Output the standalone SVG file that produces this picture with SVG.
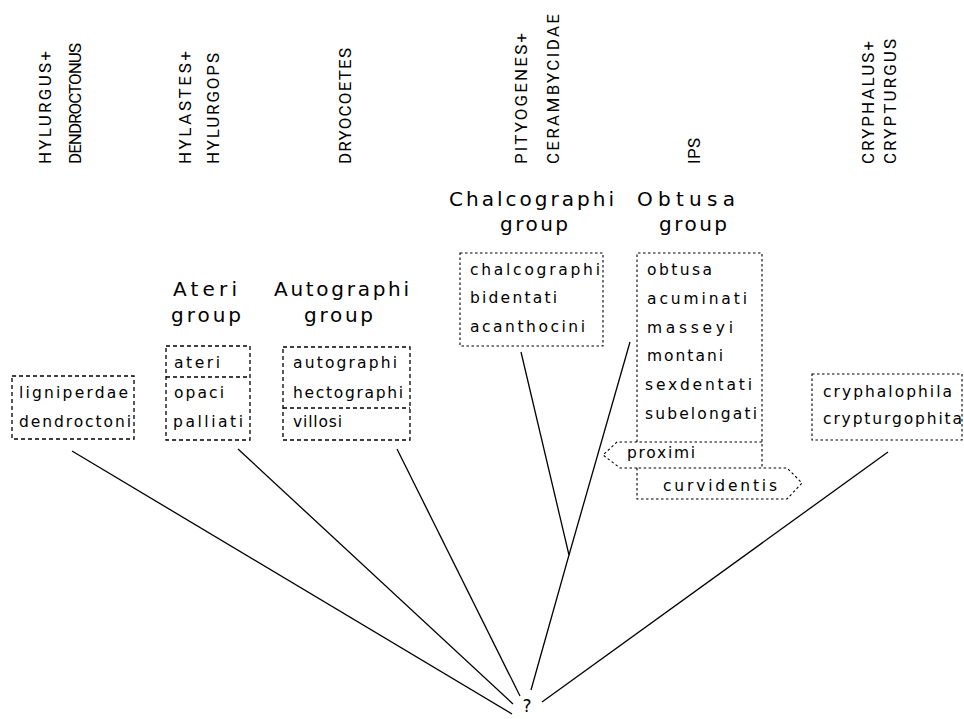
<svg xmlns="http://www.w3.org/2000/svg" width="964" height="719" viewBox="0 0 964 719">
<style>
.bg{fill:#fff}
.box{fill:none;stroke:#000;stroke-width:1.3;stroke-dasharray:4 3}
.dot{fill:none;stroke:#000;stroke-width:1.1;stroke-dasharray:2.5 2.5}
.ln{fill:none;stroke:#000;stroke-width:1.3}
.t{font-family:"DejaVu Sans","Liberation Sans",sans-serif;font-size:15.5px;fill:#000}
.h{font-family:"DejaVu Sans","Liberation Sans",sans-serif;font-size:20px;fill:#000}
.q{font-family:"DejaVu Sans","Liberation Sans",sans-serif;font-size:17px;fill:#000}
.v{font-family:Roboto,"Liberation Sans",sans-serif;font-size:17px;fill:#000}
</style>
<rect class="bg" x="0" y="0" width="964" height="719"/>

<g id="genus-labels">
<text class="v" transform="translate(51,164) rotate(-90)" textLength="113" lengthAdjust="spacing">HYLURGUS+</text>
<text class="v" transform="translate(81,164) rotate(-90)" textLength="121" lengthAdjust="spacing">DENDROCTONUS</text>
<text class="v" transform="translate(191,164) rotate(-90)" textLength="113" lengthAdjust="spacing">HYLASTES+</text>
<text class="v" transform="translate(219,164) rotate(-90)" textLength="111" lengthAdjust="spacing">HYLURGOPS</text>
<text class="v" transform="translate(351,164) rotate(-90)" textLength="116" lengthAdjust="spacing">DRYOCOETES</text>
<text class="v" transform="translate(527,164) rotate(-90)" textLength="131" lengthAdjust="spacing">PITYOGENES+</text>
<text class="v" transform="translate(559,164) rotate(-90)" textLength="150" lengthAdjust="spacing">CERAMBYCIDAE</text>
<text class="v" transform="translate(700,164) rotate(-90)" textLength="26" lengthAdjust="spacing">IPS</text>
<text class="v" transform="translate(874,164) rotate(-90)" textLength="123" lengthAdjust="spacing">CRYPHALUS+</text>
<text class="v" transform="translate(896,164) rotate(-90)" textLength="125" lengthAdjust="spacing">CRYPTURGUS</text>
</g>

<g id="connectors">
<line class="ln" x1="72" y1="451" x2="512" y2="714"/>
<line class="ln" x1="238" y1="449" x2="513" y2="704"/>
<line class="ln" x1="397" y1="449" x2="520" y2="696"/>
<polyline class="ln" points="521,352 569,555 531,690"/>
<line class="ln" x1="630" y1="342" x2="569" y2="555"/>
<line class="ln" x1="888" y1="452" x2="542" y2="702"/>
</g>

<g id="hylurgus-dendroctonus">
<rect class="box" x="12" y="376" width="122" height="63"/>
<text class="t" x="19" y="398" textLength="109" lengthAdjust="spacing">ligniperdae</text>
<text class="t" x="19" y="427" textLength="112" lengthAdjust="spacing">dendroctoni</text>
</g>

<g id="ateri-group">
<text class="h" x="173" y="296" textLength="64" lengthAdjust="spacing">Ateri</text>
<text class="h" x="171" y="322" textLength="70" lengthAdjust="spacing">group</text>
<rect class="box" x="166" y="346" width="84" height="94"/>
<line class="box" x1="166" y1="377" x2="250" y2="377"/>
<text class="t" x="174" y="368" textLength="46" lengthAdjust="spacing">ateri</text>
<text class="t" x="174" y="398" textLength="50" lengthAdjust="spacing">opaci</text>
<text class="t" x="173" y="427" textLength="70" lengthAdjust="spacing">palliati</text>
</g>

<g id="autographi-group">
<text class="h" x="274" y="296" textLength="135" lengthAdjust="spacing">Autographi</text>
<text class="h" x="304" y="322" textLength="69" lengthAdjust="spacing">group</text>
<rect class="box" x="283" y="347" width="127" height="93"/>
<line class="box" x1="283" y1="408" x2="410" y2="408"/>
<text class="t" x="293" y="368" textLength="104" lengthAdjust="spacing">autographi</text>
<text class="t" x="293" y="398" textLength="110" lengthAdjust="spacing">hectographi</text>
<text class="t" x="293" y="427" textLength="49" lengthAdjust="spacing">villosi</text>
</g>

<g id="chalcographi-group">
<text class="h" x="449" y="206" textLength="165" lengthAdjust="spacing">Chalcographi</text>
<text class="h" x="500" y="231" textLength="68" lengthAdjust="spacing">group</text>
<rect class="dot" x="460" y="253" width="143" height="93"/>
<text class="t" x="470" y="275" textLength="130" lengthAdjust="spacing">chalcographi</text>
<text class="t" x="470" y="303" textLength="87" lengthAdjust="spacing">bidentati</text>
<text class="t" x="470" y="332" textLength="115" lengthAdjust="spacing">acanthocini</text>
</g>

<g id="obtusa-group">
<text class="h" x="637" y="206" textLength="98" lengthAdjust="spacing">Obtusa</text>
<text class="h" x="659" y="231" textLength="68" lengthAdjust="spacing">group</text>
<path class="dot" d="M637,442 V253 H762 V468"/>
<text class="t" x="647" y="275" textLength="65" lengthAdjust="spacing">obtusa</text>
<text class="t" x="647" y="304" textLength="100" lengthAdjust="spacing">acuminati</text>
<text class="t" x="647" y="333" textLength="86" lengthAdjust="spacing">masseyi</text>
<text class="t" x="647" y="361" textLength="76" lengthAdjust="spacing">montani</text>
<text class="t" x="645" y="390" textLength="107" lengthAdjust="spacing">sexdentati</text>
<text class="t" x="645" y="419" textLength="112" lengthAdjust="spacing">subelongati</text>
</g>

<g id="proximi">
<path class="dot" d="M762,442 H617 L603,455 L620,468 H637"/>
<text class="t" x="627" y="458" textLength="68" lengthAdjust="spacing">proximi</text>
</g>

<g id="curvidentis">
<path class="dot" d="M637,468 V499 H787 L802,483 L787,468 Z"/>
<text class="t" x="663" y="491" textLength="114" lengthAdjust="spacing">curvidentis</text>
</g>

<g id="cryphalus-crypturgus">
<rect class="dot" x="812" y="374" width="150" height="66"/>
<text class="t" x="823" y="397" textLength="129" lengthAdjust="spacing">cryphalophila</text>
<text class="t" x="823" y="424" textLength="139" lengthAdjust="spacing">crypturgophita</text>
</g>

<g id="root">
<text class="q" x="527" y="712" text-anchor="middle">?</text>
</g>
</svg>
